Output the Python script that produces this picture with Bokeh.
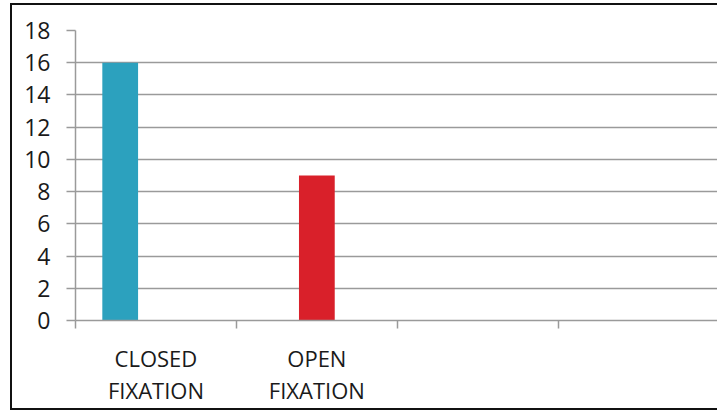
import math

from bokeh.embed import file_html
from bokeh.models import ColumnDataSource, FixedTicker, Range1d
from bokeh.plotting import figure
from bokeh.resources import INLINE
from bokeh.transform import dodge

# Chart data
categories = ["CLOSED\nFIXATION", "OPEN\nFIXATION", "", ""]
closed_counts = [16, None, None, None]
open_counts = [None, 9, None, None]
y_ticks = [0, 2, 4, 6, 8, 10, 12, 14, 16, 18]

TEAL = "#2CA1BE"
RED = "#D9202A"
GRID = "#9a9a9a"
TEXT = "#1a1a1a"
FONT = "Open Sans"

# clustered layout: three series slots per category, 150% gap width
BAR_W = 1 / 4.5


def as_num(vals):
    return [math.nan if v is None else v for v in vals]


centers = [i + 0.5 for i in range(len(categories))]
source = ColumnDataSource(dict(
    x=centers,
    closed=as_num(closed_counts),
    open=as_num(open_counts),
))

p = figure(
    width=717, height=412,
    x_range=Range1d(0, 3.99), y_range=Range1d(0, 18),
    output_backend="svg", toolbar_location=None,
    min_border_left=75, min_border_right=0,
    min_border_top=30, min_border_bottom=92,
    background_fill_color="white", border_fill_color=None,
)
p.outline_line_color = None

# chart edge (left, top and bottom) painted behind the transparent canvas border
edge = "linear-gradient(#111111, #111111)"
p.styles = {
    "background": (
        f"{edge} 10px 3px / 2px 407px no-repeat, "
        f"{edge} 10px 3px / 707px 2px no-repeat, "
        f"{edge} 10px 408px / 707px 2px no-repeat, "
        "#ffffff"
    ),
}

p.vbar(x=dodge("x", -BAR_W, range=p.x_range), top="closed", width=BAR_W,
       source=source, fill_color=TEAL, line_color=None)
p.vbar(x=dodge("x", 0, range=p.x_range), top="open", width=BAR_W,
       source=source, fill_color=RED, line_color=None)

# x axis: labels at category centres, tick marks at category boundaries
xa = p.xaxis[0]
xa.ticker = FixedTicker(ticks=centers, minor_ticks=list(range(len(categories) + 1)))
xa.major_label_overrides = {c: lab for c, lab in zip(centers, categories)}
xa.major_tick_out = 0
xa.major_tick_in = 0
xa.minor_tick_out = 8
xa.minor_tick_in = 0
xa.minor_tick_line_color = GRID
xa.minor_tick_line_width = 1.5
xa.axis_line_color = GRID
xa.axis_line_width = 1.5
xa.major_label_standoff = 14
xa.major_label_text_font = FONT
xa.major_label_text_font_size = "22px"
xa.major_label_text_color = TEXT
xa.major_label_text_line_height = 1.08

ya = p.yaxis[0]
ya.ticker = FixedTicker(ticks=y_ticks)
ya.minor_tick_line_color = None
ya.major_tick_out = 9
ya.major_tick_in = 0
ya.major_tick_line_color = GRID
ya.major_tick_line_width = 1.5
ya.axis_line_color = GRID
ya.axis_line_width = 1.5
ya.major_label_standoff = 16
ya.major_label_text_font = FONT
ya.major_label_text_font_size = "23px"
ya.major_label_text_color = TEXT

p.xgrid.visible = False
p.ygrid.ticker = FixedTicker(ticks=y_ticks)
p.ygrid.grid_line_color = GRID
p.ygrid.grid_line_width = 1.5

open("out.html", "w").write(file_html(p, INLINE))
